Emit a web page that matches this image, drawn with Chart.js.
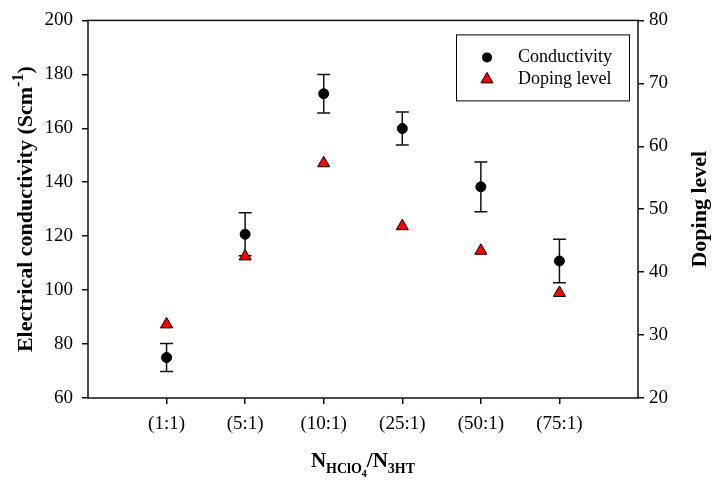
<!DOCTYPE html>
<html>
<head>
<meta charset="utf-8">
<script src="https://cdn.jsdelivr.net/npm/chart.js@4/dist/chart.umd.min.js"></script>
<style>
  html, body { margin: 0; padding: 0; background: #fff; }
  #wrap { width: 712px; height: 481px; position: relative; }
</style>
</head>
<body>
<div id="wrap"><canvas id="chart"></canvas></div>
<script>
  const categories = ["(1:1)", "(5:1)", "(10:1)", "(25:1)", "(50:1)", "(75:1)"];
  const conductivity = [75.0, 120.7, 172.8, 159.9, 138.3, 110.8];
  const conductivityErr = [5.2, 8.0, 7.1, 6.1, 9.2, 8.1];
  const dopingLevel = [31.7, 42.5, 57.3, 47.3, 43.4, 36.7];
  const leftTicks = [60, 80, 100, 120, 140, 160, 180, 200];
  const rightTicks = [20, 30, 40, 50, 60, 70, 80];

  const FONT = "'Liberation Serif', 'Times New Roman', serif";

  // draw a run of text pieces (size, vertical shift) starting at x
  function drawPieces(ctx, pieces, x, y) {
    let cx = x;
    pieces.forEach((p) => {
      ctx.font = `bold ${p.size}px ${FONT}`;
      ctx.fillText(p.text, cx, y + p.dy);
      cx += ctx.measureText(p.text).width;
    });
  }

  function piecesWidth(ctx, pieces) {
    return pieces.reduce((w, p) => {
      ctx.font = `bold ${p.size}px ${FONT}`;
      return w + ctx.measureText(p.text).width;
    }, 0);
  }

  const errorBars = {
    id: "errorBars",
    beforeDatasetsDraw(chart) {
      const {ctx, scales: {x, y}} = chart;
      ctx.save();
      ctx.strokeStyle = "#111";
      ctx.lineWidth = 1.5;
      conductivity.forEach((v, i) => {
        const px = x.getPixelForValue(i);
        const top = y.getPixelForValue(v + conductivityErr[i]);
        const bot = y.getPixelForValue(v - conductivityErr[i]);
        ctx.beginPath();
        ctx.moveTo(px, top);
        ctx.lineTo(px, bot);
        ctx.moveTo(px - 6.5, top);
        ctx.lineTo(px + 6.5, top);
        ctx.moveTo(px - 6.5, bot);
        ctx.lineTo(px + 6.5, bot);
        ctx.stroke();
      });
      ctx.restore();
    },
  };

  const decorations = {
    id: "decorations",
    afterDraw(chart) {
      const {ctx, chartArea: ca} = chart;
      ctx.save();

      // frame
      ctx.strokeStyle = "#111";
      ctx.lineWidth = 1.5;
      ctx.strokeRect(ca.left, ca.top, ca.right - ca.left, ca.bottom - ca.top);

      ctx.fillStyle = "#000";
      ctx.textAlign = "left";
      ctx.textBaseline = "alphabetic";
      const midY = (ca.top + ca.bottom) / 2;

      // left title
      const leftTitle = [
        {text: "Electrical conductivity (Scm", size: 22, dy: 0},
        {text: "-1", size: 16, dy: -9},
        {text: ")", size: 22, dy: 0},
      ];
      ctx.save();
      ctx.translate(32, midY);
      ctx.rotate(-Math.PI / 2);
      drawPieces(ctx, leftTitle, -piecesWidth(ctx, leftTitle) / 2, 0);
      ctx.restore();

      // right title
      const rightTitle = [{text: "Doping level", size: 22, dy: 0}];
      ctx.save();
      ctx.translate(706, midY);
      ctx.rotate(-Math.PI / 2);
      drawPieces(ctx, rightTitle, -piecesWidth(ctx, rightTitle) / 2, 0);
      ctx.restore();

      // bottom title
      const xTitle = [
        {text: "N", size: 21, dy: 0},
        {text: "HClO", size: 14, dy: 6},
        {text: "4", size: 10, dy: 10},
        {text: "/N", size: 21, dy: 0},
        {text: "3HT", size: 14, dy: 6},
      ];
      const cx = (ca.left + ca.right) / 2;
      drawPieces(ctx, xTitle, cx - piecesWidth(ctx, xTitle) / 2, 467);

      // legend
      const bx = ca.right - 182;
      const by = ca.top + 14;
      ctx.lineWidth = 1;
      ctx.strokeStyle = "#000";
      ctx.strokeRect(bx + 0.5, by + 0.5, 173, 66);

      const mx = bx + 31;
      ctx.beginPath();
      ctx.arc(mx, by + 23, 5, 0, Math.PI * 2);
      ctx.fillStyle = "#000";
      ctx.fill();

      const ty = by + 45;
      const r = 7;
      ctx.beginPath();
      ctx.moveTo(mx, ty - r);
      ctx.lineTo(mx + Math.sin(Math.PI * 2 / 3) * r, ty + r / 2);
      ctx.lineTo(mx - Math.sin(Math.PI * 2 / 3) * r, ty + r / 2);
      ctx.closePath();
      ctx.fillStyle = "#ff0000";
      ctx.fill();
      ctx.strokeStyle = "#000";
      ctx.stroke();

      ctx.fillStyle = "#000";
      ctx.font = `18px ${FONT}`;
      ctx.textBaseline = "middle";
      const labels = chart.data.datasets.map((d) => d.label);
      ctx.fillText(labels[0], bx + 62, by + 23);
      ctx.fillText(labels[1], bx + 62, by + 45);

      ctx.restore();
    },
  };

  const tickFont = {family: FONT, size: 19};
  const tickGrid = {
    drawOnChartArea: false,
    drawTicks: true,
    tickLength: 6,
    color: "#111",
    lineWidth: 1.5,
  };

  new Chart(document.getElementById("chart"), {
    type: "scatter",
    data: {
      datasets: [
        {
          label: "Conductivity",
          data: conductivity.map((v, i) => ({x: i, y: v})),
          yAxisID: "y",
          pointStyle: "circle",
          pointRadius: 5,
          backgroundColor: "#000",
          borderColor: "#000",
          borderWidth: 1,
        },
        {
          label: "Doping level",
          data: dopingLevel.map((v, i) => ({x: i, y: v})),
          yAxisID: "y2",
          pointStyle: "triangle",
          pointRadius: 7,
          backgroundColor: "#ff0000",
          borderColor: "#000",
          borderWidth: 1,
        },
      ],
    },
    options: {
      responsive: true,
      maintainAspectRatio: false,
      animation: false,
      layout: {padding: {top: 15, left: 0, right: 0, bottom: 0}},
      plugins: {legend: {display: false}, tooltip: {enabled: false}},
      scales: {
        x: {
          type: "linear",
          min: -1,
          max: 6,
          afterBuildTicks: (s) => { s.ticks = categories.map((_, i) => ({value: i})); },
          afterFit: (s) => { s.height = 83; },
          ticks: {
            callback: (v) => categories[v],
            color: "#000",
            font: tickFont,
            padding: 9,
            autoSkip: false,
            maxRotation: 0,
          },
          grid: tickGrid,
          border: {display: false},
        },
        y: {
          position: "left",
          min: 60,
          max: 200,
          afterBuildTicks: (s) => { s.ticks = leftTicks.map((v) => ({value: v})); },
          afterFit: (s) => { s.width = 88; },
          ticks: {color: "#000", font: tickFont, padding: 9},
          grid: tickGrid,
          border: {display: false},
        },
        y2: {
          position: "right",
          min: 20,
          max: 80,
          afterBuildTicks: (s) => { s.ticks = rightTicks.map((v) => ({value: v})); },
          afterFit: (s) => { s.width = 74; },
          ticks: {color: "#000", font: tickFont, padding: 5},
          grid: tickGrid,
          border: {display: false},
        },
      },
    },
    plugins: [errorBars, decorations],
  });
</script>
</body>
</html>
